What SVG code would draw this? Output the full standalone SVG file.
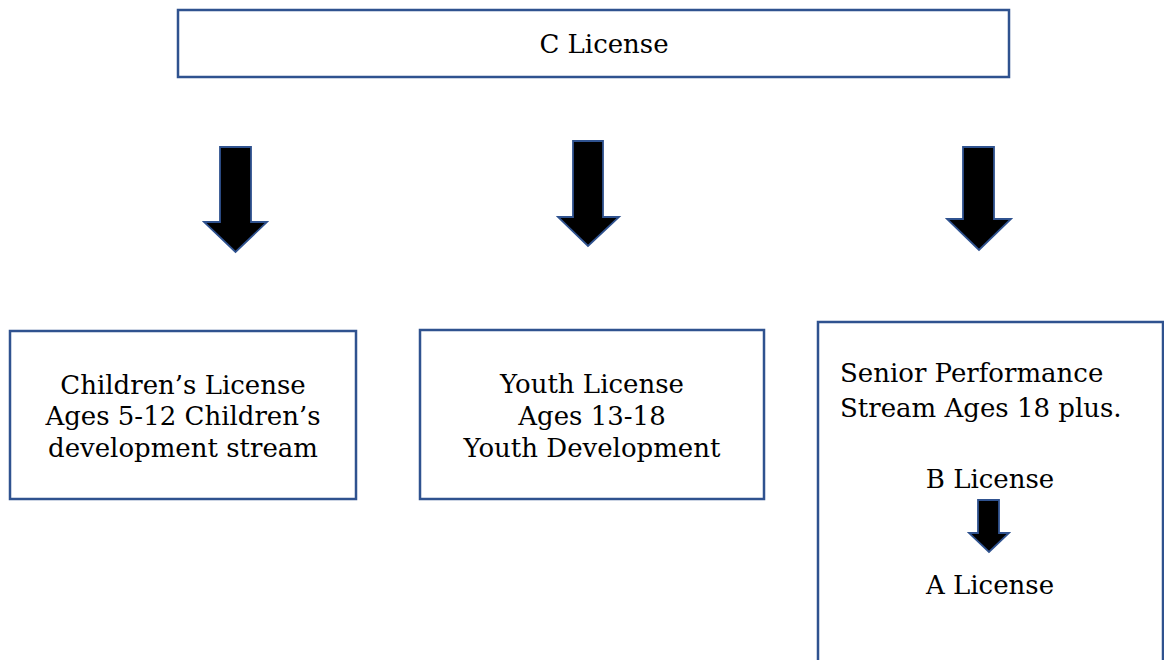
<svg xmlns="http://www.w3.org/2000/svg" width="1164" height="660" viewBox="0 0 1164 660">
<style>
.box{fill:#fff;stroke:#2F528F;stroke-width:2.5}
.arr{fill:#000;stroke:#2F528F;stroke-width:1.8;stroke-linejoin:miter}
text{font-family:"DejaVu Serif","Liberation Serif",serif;font-size:26px;fill:#000}
.c{text-anchor:middle}
</style>
<rect width="1164" height="660" fill="#fff"/>
<g id="c-license">
<rect class="box" x="178" y="10" width="831" height="67"/>
<text class="c" x="604" y="53">C License</text>
</g>
<g id="connectors">
<path class="arr" d="M220,147 H251 V222 H267 L235.5,252 L204,222 H220 Z"/>
<path class="arr" d="M573,141 H603 V217 H619 L588,246 L558,217 H573 Z"/>
<path class="arr" d="M963,147 H994 V219 H1011 L979,250 L947,219 H963 Z"/>
</g>
<g id="children-license">
<rect class="box" x="10" y="331" width="346" height="168"/>
<text class="c" x="183" y="394">Children’s License</text>
<text class="c" x="183" y="425">Ages 5-12 Children’s</text>
<text class="c" x="183" y="457">development stream</text>
</g>
<g id="youth-license">
<rect class="box" x="420" y="330" width="344" height="169"/>
<text class="c" x="592" y="393">Youth License</text>
<text class="c" x="592" y="425">Ages 13-18</text>
<text class="c" x="592" y="457">Youth Development</text>
</g>
<g id="senior-stream">
<rect class="box" x="818" y="322" width="345" height="360"/>
<text x="840" y="382">Senior Performance</text>
<text x="840" y="417">Stream Ages 18 plus.</text>
<g id="b-license"><text class="c" x="990" y="488">B License</text></g>
<path class="arr" d="M978,500 H999 V533 H1009 L989,552 L969,533 H978 Z"/>
<g id="a-license"><text class="c" x="990" y="594">A License</text></g>
</g>
</svg>
